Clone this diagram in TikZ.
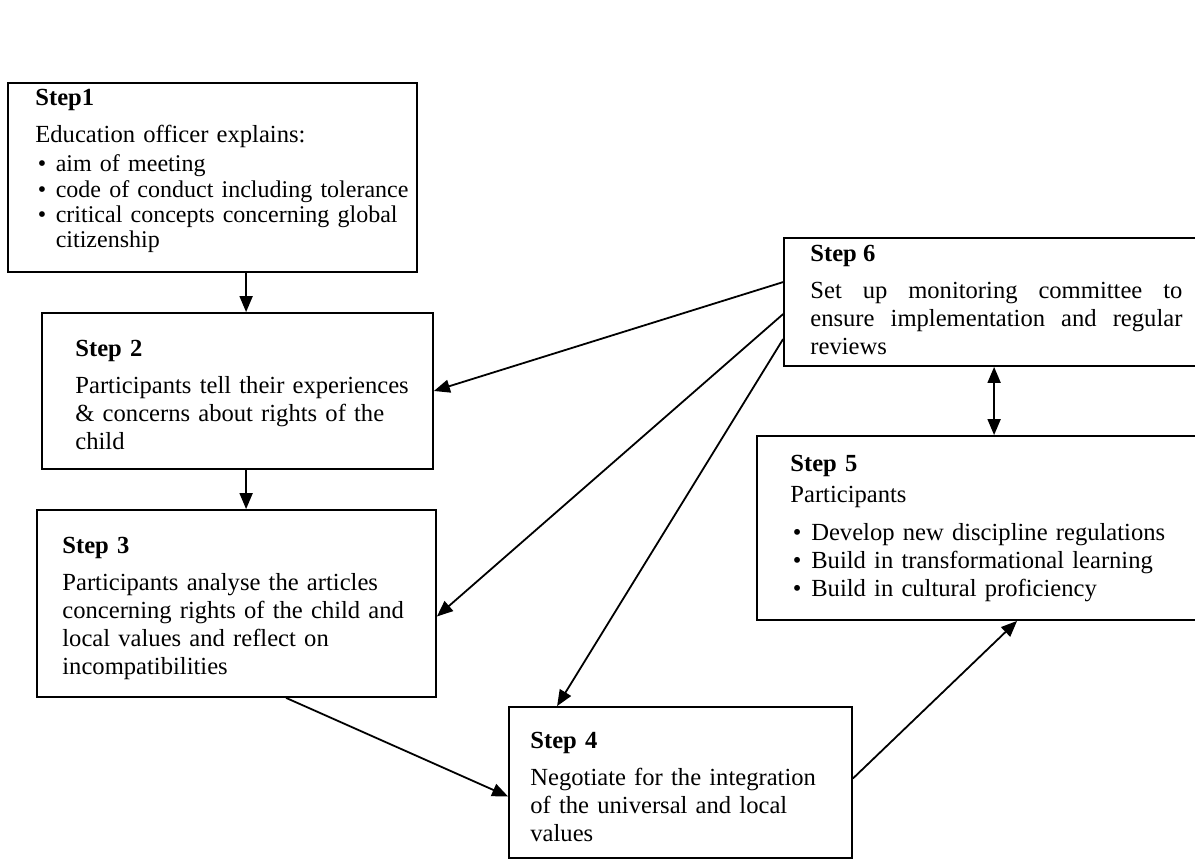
\documentclass[tikz,border=0pt]{standalone}
\usepackage{fontspec}
\setmainfont{Liberation Serif}
\usetikzlibrary{arrows.meta,fit,calc,positioning}

\tikzstyle{stepbox} = [draw, line width=0.9pt, inner sep=0pt]
\tikzstyle{steptext} = [anchor=north west, inner sep=0pt, align=left, font=\fontsize{12.3}{14}\selectfont]
\tikzstyle{line} = [draw, line width=0.9pt, -{Triangle[length=8pt,width=6.5pt]}]
\tikzstyle{dline} = [draw, line width=0.9pt, {Triangle[length=8pt,width=6.5pt]}-{Triangle[length=8pt,width=6.5pt]}]

\hyphenpenalty=10000
\exhyphenpenalty=10000
\newcommand{\stepitem}{\par\hangindent=0.85em\hangafter=1\noindent\makebox[0.85em][l]{\hspace{0.1em}\textbullet}}
\newcommand{\steptitle}[1]{\textbf{#1}\par\vspace{4.5pt}}

\begin{document}
\begin{tikzpicture}[x=0.5pt,y=-0.5pt]
\useasboundingbox (0,0) rectangle (1195,860);
%boxes
\node[stepbox, fit={(8,83) (417,272)}] (s1) {};
\node[stepbox, fit={(42,313) (433,469)}] (s2) {};
\node[stepbox, fit={(37,510) (436,697)}] (s3) {};
\node[stepbox, fit={(509,707) (852,858)}] (s4) {};
\node[stepbox, fit={(757,436) (1210,620)}] (s5) {};
\node[stepbox, fit={(784,238) (1210,366)}] (s6) {};

%texts
\node[steptext, text width=200pt] (t1) at (35,89) {\steptitle{Step1}
Education officer explains:\par\vspace{2pt}
{\fontsize{12}{12.6}\selectfont
\stepitem aim of meeting
\stepitem code of conduct including tolerance
\stepitem critical concepts concerning global\newline citizenship\par}};
\node[steptext, text width=200pt] (t2) at (75,340) {\steptitle{Step 2}
Participants tell their experiences\newline
\& concerns about rights of the\newline
child};
\node[steptext, text width=200pt] (t3) at (62,537) {\steptitle{Step 3}
Participants analyse the articles\newline
concerning rights of the child and\newline
local values and reflect on\newline
incompatibilities};
\node[steptext, text width=180pt] (t4) at (530,732) {\steptitle{Step 4}
Negotiate for the integration\newline
of the universal and local\newline
values};
\node[steptext, text width=200pt] (t5) at (790,455) {\textbf{Step 5}\par\vspace{1.5pt}
Participants\par\vspace{5pt}
\stepitem Develop new discipline regulations
\stepitem Build in transformational learning
\stepitem Build in cultural proficiency\par};
\node[steptext, text width=186pt, align=justify] (t6) at (810,245) {\steptitle{Step 6}
Set up monitoring committee to\linebreak
ensure implementation and regular\linebreak
reviews};

%arrows
\coordinate (c12) at ($(s2.north west)+(205,0)$);
\coordinate (c23) at ($(s3.north west)+(210,0)$);
\coordinate (m56) at ($(s5.north west)+(238,0)$);
\draw[line] (c12 |- s1.south) -- (c12);
\draw[line] (c23 |- s2.south) -- (c23);
\draw[line] ($(s3.south west)+(250,0)$) -- ($(s4.west)+(0,14)$);
\draw[line] ($(s4.east)+(0,-4)$) -- ($(s5.south west)+(261,0)$);
\draw[line] ($(s6.north west)+(0,45)$) -- (s2.east);
\draw[line] ($(s6.north west)+(0,77)$) -- ($(s3.east)+(0,13)$);
\draw[line] ($(s6.north west)+(0,102)$) -- ($(s4.north west)+(49,0)$);
\draw[dline] (m56 |- s6.south) -- (m56);
\end{tikzpicture}
\end{document}
